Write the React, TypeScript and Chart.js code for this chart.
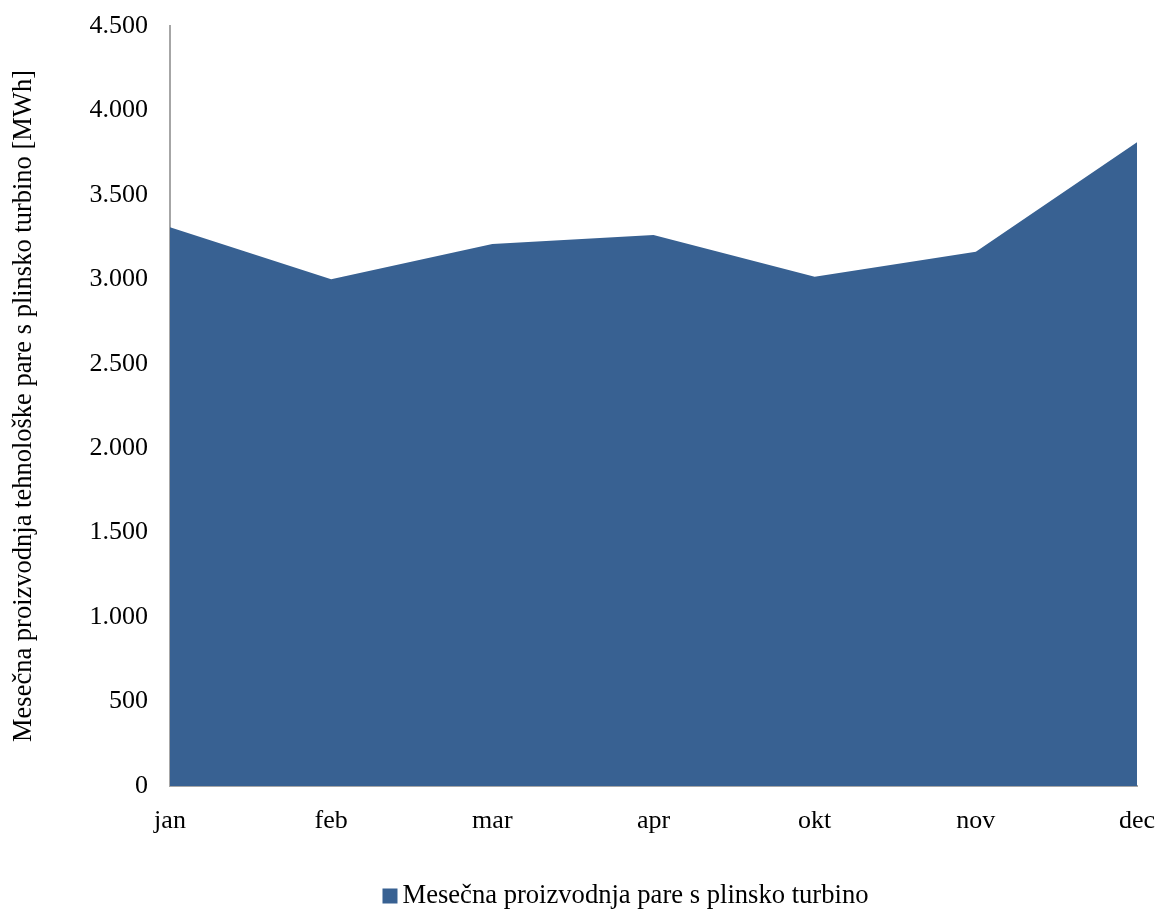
import React, { useEffect, useRef } from "react";
import { Chart, registerables } from "chart.js";

Chart.register(...registerables);

const months = ["jan", "feb", "mar", "apr", "okt", "nov", "dec"];
const steamProduction = [3308, 3000, 3209, 3262, 3016, 3164, 3811];
const seriesLabel = "Mesečna proizvodnja pare s plinsko turbino";
const yAxisTitle = "Mesečna proizvodnja tehnološke pare s plinsko turbino [MWh]";

const FONT = "'Liberation Serif', 'Times New Roman', serif";
const FONT_SIZE = 26;
const TITLE_SIZE = 26.5;
const LEGEND_SIZE = 26.6;
const FILL = "#386192";

const formatThousands = (v: number) =>
  String(Math.round(v)).replace(/\B(?=(\d{3})+(?!\d))/g, ".");

// Legend drawn under the x axis: a small square swatch followed by the series name.
const bottomLegend = {
  id: "bottomLegend",
  afterDraw(chart: any) {
    const { ctx, chartArea, data } = chart;
    const ds = data.datasets[0];
    const box = 15;
    const gap = 5;
    ctx.save();
    ctx.font = `${LEGEND_SIZE}px ${FONT}`;
    const textW = ctx.measureText(ds.label).width;
    const total = box + gap + textW;
    const cx = (chartArea.left + chartArea.right) / 2 - 28;
    const x0 = cx - total / 2;
    const cy = chartArea.bottom + 110;
    ctx.fillStyle = ds.backgroundColor;
    ctx.fillRect(x0, cy - box / 2, box, box);
    ctx.fillStyle = "#000";
    ctx.textBaseline = "middle";
    ctx.textAlign = "left";
    ctx.fillText(ds.label, x0 + box + gap, cy);
    ctx.restore();
  },
};

export default function App() {
  const canvasRef = useRef<HTMLCanvasElement | null>(null);

  useEffect(() => {
    if (!canvasRef.current) return;
    const chart = new Chart(canvasRef.current, {
      type: "line",
      data: {
        labels: months,
        datasets: [
          {
            label: seriesLabel,
            data: steamProduction,
            fill: "origin",
            backgroundColor: FILL,
            borderColor: FILL,
            borderWidth: 0,
            pointRadius: 0,
            tension: 0,
          },
        ],
      },
      plugins: [bottomLegend],
      options: {
        animation: false,
        responsive: false,
        layout: { padding: { top: 26, right: 22, bottom: 74, left: 0 } },
        plugins: {
          tooltip: { enabled: false },
          legend: { display: false },
        },
        scales: {
          x: {
            grid: { display: false },
            border: { display: true, color: "#a6a6a6", width: 2 },
            ticks: {
              font: { family: FONT, size: FONT_SIZE },
              color: "#000",
              maxRotation: 0,
              autoSkip: false,
              padding: 12,
            },
            afterFit: (scale: any) => {
              scale.height = 50;
              scale.paddingLeft = 0;
              scale.paddingRight = 0;
            },
          },
          y: {
            min: 0,
            max: 4500,
            grid: { display: false },
            border: { display: true, color: "#a6a6a6", width: 2 },
            ticks: {
              stepSize: 500,
              font: { family: FONT, size: FONT_SIZE },
              color: "#000",
              padding: 14,
              callback: (v: any) => formatThousands(Number(v)),
            },
            title: {
              display: true,
              text: yAxisTitle,
              font: { family: FONT, size: TITLE_SIZE },
              color: "#000",
              padding: { top: 8, bottom: 0 },
            },
            afterFit: (scale: any) => {
              scale.width = 170;
              scale.paddingTop = 0;
              scale.paddingBottom = 0;
            },
          },
        },
      },
    });
    return () => chart.destroy();
  }, []);

  return (
    <div style={{ position: "fixed", left: 0, top: 0, width: 1159, height: 910, background: "#fff" }}>
      <canvas ref={canvasRef} width={1159} height={910} />
    </div>
  );
}
